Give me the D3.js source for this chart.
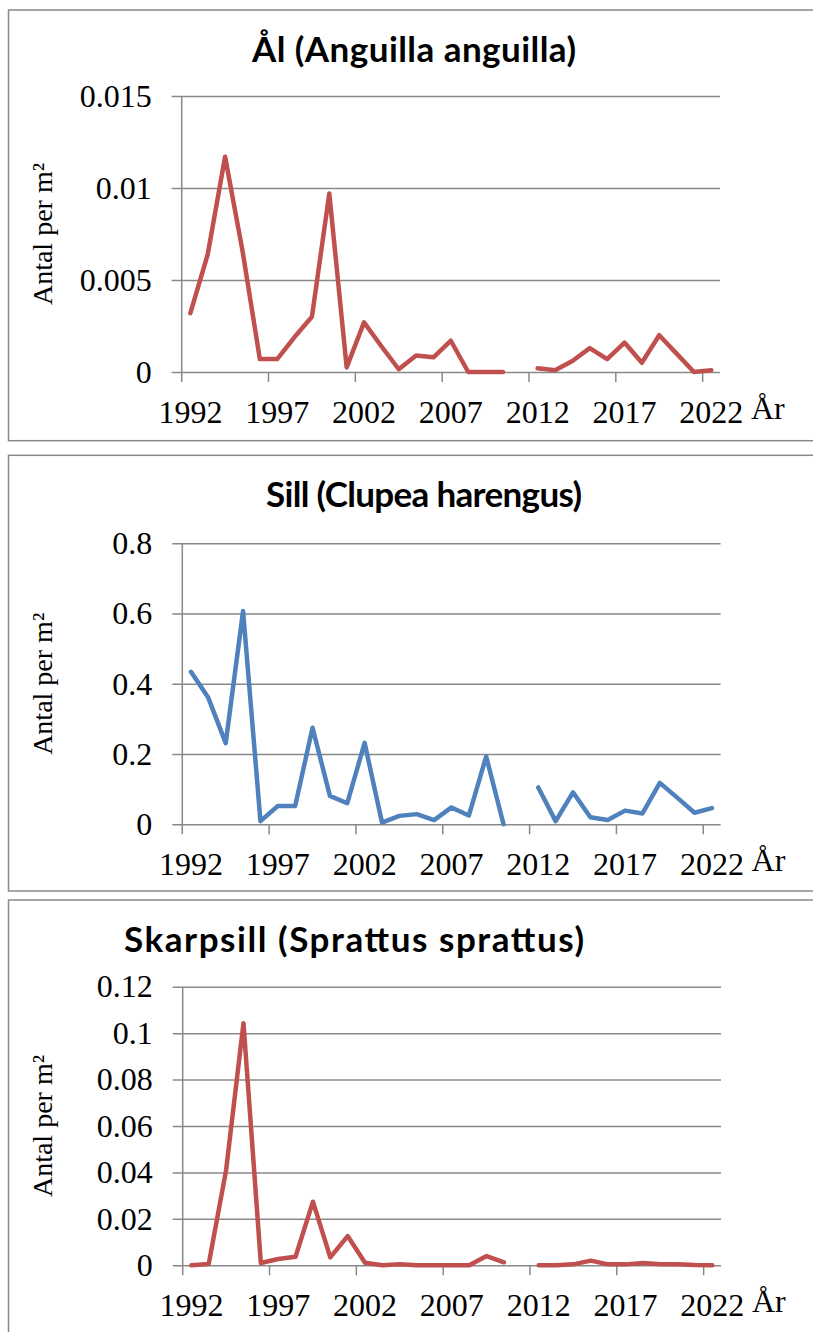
<!DOCTYPE html>
<html>
<head>
<meta charset="utf-8">
<script src="https://cdn.jsdelivr.net/npm/d3@7"></script>
<style>
  body { margin: 0; background: #fff; }
  svg { display: block; }
  .serif text, text.serif { font-family: "Liberation Serif", "Times New Roman", serif; }
</style>
</head>
<body>
<div id="chart"></div>
<script>
// categories: one per year, 2011 has no value
const years = [1992, 1993, 1994, 1995, 1996, 1997, 1998, 1999, 2000, 2001,
  2002, 2003, 2004, 2005, 2006, 2007, 2008, 2009, 2010, 2011,
  2012, 2013, 2014, 2015, 2016, 2017, 2018, 2019, 2020, 2021, 2022];
const yearLabels = [1992, 1997, 2002, 2007, 2012, 2017, 2022];

// Ål (Anguilla anguilla), antal per m2
const alValues = [0.0032, 0.0064, 0.0117, 0.0066, 0.0007, 0.0007, 0.0019, 0.0030, 0.0097, 0.00025,
  0.0027, 0.0014, 0.00015, 0.0009, 0.0008, 0.0017, 0, 0, 0, null,
  0.0002, 0.0001, 0.0006, 0.0013, 0.0007, 0.0016, 0.0005, 0.0020, 0.0010, 0, 0.0001];
const alTicks = [0, 0.005, 0.01, 0.015];
const alTickLabels = ["0", "0.005", "0.01", "0.015"];

// Sill (Clupea harengus)
const sillValues = [0.434, 0.360, 0.231, 0.607, 0.009, 0.052, 0.052, 0.275, 0.081, 0.060,
  0.232, 0.005, 0.024, 0.029, 0.012, 0.048, 0.025, 0.193, 0, null,
  0.105, 0.009, 0.091, 0.020, 0.012, 0.039, 0.031, 0.118, 0.076, 0.033, 0.046];
const sillTicks = [0, 0.2, 0.4, 0.6, 0.8];
const sillTickLabels = ["0", "0.2", "0.4", "0.6", "0.8"];

// Skarpsill (Sprattus sprattus)
const skarpsillValues = [0, 0.0006, 0.041, 0.1043, 0.001, 0.0027, 0.0037, 0.0274, 0.0034, 0.0126,
  0.0011, 0, 0.0004, 0, 0, 0, 0, 0.004, 0.0013, null,
  0, 0, 0.0004, 0.002, 0.0004, 0.0004, 0.001, 0.0005, 0.0005, 0.0001, 0];
const skarpsillTicks = [0, 0.02, 0.04, 0.06, 0.08, 0.1, 0.12];
const skarpsillTickLabels = ["0", "0.02", "0.04", "0.06", "0.08", "0.1", "0.12"];

const width = 813;
const height = 1332;
const gridColor = "#898989";
const serif = "Liberation Serif";

const svg = d3.select("#chart")
  .append("svg")
  .attr("width", width)
  .attr("height", height);

const panels = [
  {
    title: "Ål (Anguilla anguilla)", values: alValues, ticks: alTicks, tickLabels: alTickLabels,
    color: "#C0504D", box: [8.5, 10, 440.7], plot: [181.7, 720, 96, 372],
    titleX: 414, titleY: 62, titleWidth: 324
  },
  {
    title: "Sill (Clupea harengus)", values: sillValues, ticks: sillTicks, tickLabels: sillTickLabels,
    color: "#4F81BD", box: [8.5, 455.3, 891], plot: [182.3, 720.6, 543.3, 824.3],
    titleX: 424, titleY: 507, titleWidth: 316
  },
  {
    title: "Skarpsill (Sprattus sprattus)", values: skarpsillValues, ticks: skarpsillTicks, tickLabels: skarpsillTickLabels,
    color: "#C0504D", box: [8.5, 900, 1345], plot: [182.7, 721, 986.7, 1265.3],
    titleX: 354, titleY: 952, titleWidth: 460
  }
];

panels.forEach((p) => drawPanel(p));

function drawPanel({ title, values, ticks, tickLabels, color, box, plot, titleX, titleY, titleWidth }) {
  const [bx, by0, by1] = box;
  const [left, right, top, bottom] = plot;
  const g = svg.append("g");

  // chart area border (right edge runs off the picture)
  g.append("rect")
    .attr("x", bx)
    .attr("y", by0)
    .attr("width", width + 20 - bx)
    .attr("height", by1 - by0)
    .attr("fill", "#fff")
    .attr("stroke", gridColor)
    .attr("stroke-width", 1.5);

  const x = d3.scaleBand().domain(years).range([left, right]).padding(0);
  const y = d3.scaleLinear()
    .domain([0, ticks[ticks.length - 1]])
    .range([bottom, top]);

  // title
  g.append("text")
    .attr("x", titleX)
    .attr("y", titleY)
    .attr("text-anchor", "middle")
    .attr("font-family", "Lato")
    .attr("font-weight", "bold")
    .attr("font-size", 35)
    .attr("textLength", titleWidth)
    .attr("lengthAdjust", "spacing")
    .attr("fill", "#000")
    .text(title);

  // horizontal gridlines + y ticks
  const yAxis = g.append("g")
    .attr("transform", `translate(${left},0)`)
    .call(d3.axisLeft(y)
      .tickValues(ticks)
      .tickSize(10)
      .tickPadding(20)
      .tickFormat((d, i) => tickLabels[i]))
    .attr("class", "serif")
    .attr("font-family", serif)
    .attr("font-size", 32);
  yAxis.select(".domain").remove();
  yAxis.selectAll(".tick line")
    .attr("x2", -10)
    .attr("x1", right - left)
    .attr("stroke", gridColor)
    .attr("stroke-width", 1.5);
  yAxis.selectAll(".tick text")
    .attr("font-family", serif)
    .attr("font-size", 32)
    .attr("fill", "#000");

  // vertical axis line
  g.append("line")
    .attr("x1", left).attr("x2", left)
    .attr("y1", top).attr("y2", bottom + 10)
    .attr("stroke", gridColor)
    .attr("stroke-width", 1.5);

  // x tick marks on category boundaries every five years
  const boundaryYears = yearLabels.slice(1);
  g.append("g")
    .selectAll("line")
    .data(boundaryYears)
    .join("line")
    .attr("x1", (d) => x(d))
    .attr("x2", (d) => x(d))
    .attr("y1", bottom)
    .attr("y2", bottom + 10)
    .attr("stroke", gridColor)
    .attr("stroke-width", 1.5);

  // x labels centred on categories
  const xAxis = g.append("g")
    .attr("transform", `translate(0,${bottom})`)
    .call(d3.axisBottom(x).tickValues(yearLabels).tickSize(0).tickPadding(0))
    .attr("class", "serif")
    .attr("font-family", serif)
    .attr("font-size", 32);
  xAxis.select(".domain").remove();
  xAxis.selectAll(".tick text")
    .attr("dy", null)
    .attr("y", 51)
    .attr("font-family", serif)
    .attr("font-size", 32)
    .attr("fill", "#000");

  g.append("text")
    .attr("class", "serif")
    .attr("x", right + 31)
    .attr("y", bottom + 47)
    .attr("font-size", 32)
    .text("År");

  // y axis title
  g.append("text")
    .attr("class", "serif")
    .attr("transform", `translate(52,${(top + bottom) / 2}) rotate(-90)`)
    .attr("text-anchor", "middle")
    .attr("font-size", 28)
    .text("Antal per m²");

  // series line
  const line = d3.line()
    .defined((d) => d !== null)
    .x((d, i) => x(years[i]) + x.bandwidth() / 2)
    .y((d) => y(d));

  g.append("path")
    .datum(values)
    .attr("d", line)
    .attr("fill", "none")
    .attr("stroke", color)
    .attr("stroke-width", 4.5)
    .attr("stroke-linejoin", "round")
    .attr("stroke-linecap", "round");
}
</script>
</body>
</html>
